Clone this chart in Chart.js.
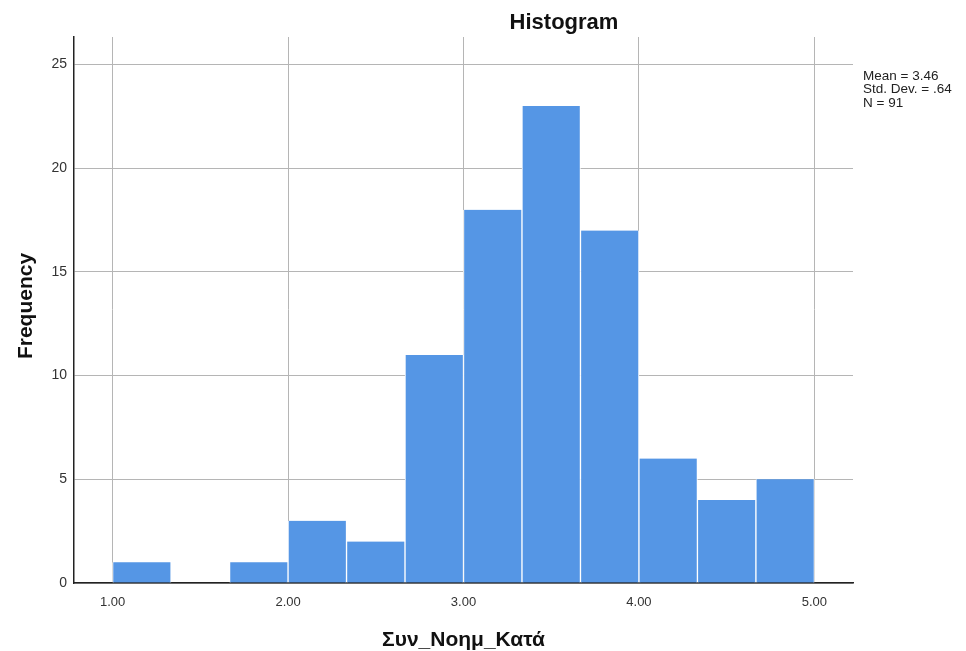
<!DOCTYPE html>
<html>
<head>
<meta charset="utf-8">
<script src="https://cdn.jsdelivr.net/npm/chart.js"></script>
<style>
  html, body { margin: 0; padding: 0; background: #fff; }
  #wrap { width: 966px; height: 651px; }
</style>
</head>
<body>
<div id="wrap"><canvas id="histChart" width="966" height="651"></canvas></div>
<script>
// histogram bins (width 1/3) starting at 1.00
var binStarts = [1.0, 1.3333, 1.6667, 2.0, 2.3333, 2.6667, 3.0, 3.3333, 3.6667, 4.0, 4.3333, 4.6667];
var binWidth = 1 / 3;
var counts = [1, 0, 1, 3, 2, 11, 18, 23, 17, 6, 4, 5];
var xTicks = [1, 2, 3, 4, 5];
var xTickLabels = ['1.00', '2.00', '3.00', '4.00', '5.00'];
var yTicks = [0, 5, 10, 15, 20, 25];
var statsLines = ['Mean = 3.46', 'Std. Dev. = .64', 'N = 91'];

var FONT = '"Liberation Sans", Arial, sans-serif';

var points = binStarts.map(function(s, i) {
    return {x: s + binWidth / 2, y: counts[i]};
});

// titles and stats box drawn on top
var textPlugin = {
    id: 'texts',
    afterDraw: function(chart) {
        var c = chart.ctx;
        var area = chart.chartArea;
        c.save();
        c.fillStyle = '#111';
        c.textAlign = 'center';
        c.textBaseline = 'alphabetic';
        c.font = 'bold 22px ' + FONT;
        c.fillText('Histogram', 564, 29);
        c.font = 'bold 21px ' + FONT;
        c.fillText('Συν_Νοημ_Κατά', (area.left + area.right) / 2, 646);
        c.translate(32, 306);
        c.rotate(-Math.PI / 2);
        c.fillText('Frequency', 0, 0);
        c.restore();

        c.save();
        c.fillStyle = '#222';
        c.font = '13.5px ' + FONT;
        c.textAlign = 'left';
        c.textBaseline = 'alphabetic';
        statsLines.forEach(function(t, i) {
            c.fillText(t, 863, 80 + i * 13.3);
        });
        c.restore();
    }
};

new Chart(document.getElementById('histChart').getContext('2d'), {
    type: 'bar',
    data: {
        datasets: [{
            label: 'Frequency',
            data: points,
            backgroundColor: '#5596e5',
            borderColor: '#ffffff',
            borderWidth: {left: 1, right: 1, top: 0, bottom: 0},
            borderSkipped: false,
            barPercentage: 1,
            categoryPercentage: 1
        }]
    },
    options: {
        responsive: false,
        animation: false,
        layout: {padding: {left: 0, right: 113, top: 37, bottom: 0}},
        plugins: {legend: {display: false}, tooltip: {enabled: false}, title: {display: false}},
        scales: {
            x: {
                type: 'linear',
                offset: false,
                min: 0.78,
                max: 5.22,
                afterBuildTicks: function(scale) {
                    scale.ticks = xTicks.map(function(v) { return {value: v}; });
                },
                afterFit: function(scale) { scale.height = 68; },
                ticks: {
                    callback: function(v) {
                        var i = xTicks.indexOf(v);
                        return i >= 0 ? xTickLabels[i] : '';
                    },
                    font: {family: FONT, size: 13},
                    color: '#333',
                    padding: 12,
                    maxRotation: 0
                },
                grid: {offset: false, color: '#b5b5b5', lineWidth: 1, drawTicks: false},
                border: {color: '#222', width: 1.5}
            },
            y: {
                min: 0,
                max: 26.33,
                afterBuildTicks: function(scale) {
                    scale.ticks = yTicks.map(function(v) { return {value: v}; });
                },
                afterFit: function(scale) { scale.width = 74; },
                ticks: {
                    font: {family: FONT, size: 14},
                    color: '#333',
                    padding: 7
                },
                grid: {color: '#b5b5b5', lineWidth: 1, drawTicks: false},
                border: {color: '#222', width: 1.5}
            }
        }
    },
    plugins: [textPlugin]
});
</script>
</body>
</html>
